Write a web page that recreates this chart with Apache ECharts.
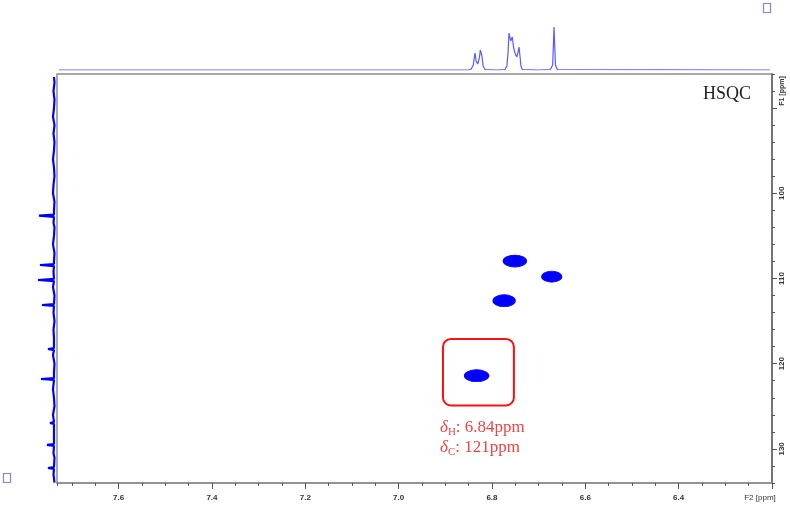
<!DOCTYPE html>
<html><head><meta charset="utf-8">
<script src="https://cdn.jsdelivr.net/npm/echarts@6/dist/echarts.min.js"></script>
<style>html,body{margin:0;padding:0;background:#fff}#c{width:790px;height:518px}</style>
</head><body><div id="c"></div>
<script>
// ---------- data ----------
const peakF2 = [6.751, 6.672, 6.774, 6.833];
const peakF1 = [107.95, 109.79, 112.61, 121.41];

const topPpm = [7.728, 6.870, 6.850, 6.8445, 6.840, 6.838, 6.8364, 6.834, 6.8306, 6.827, 6.825, 6.8235, 6.8215, 6.819, 6.815, 6.790,
                6.772, 6.768, 6.7655, 6.7635, 6.760, 6.7565, 6.7535, 6.7507, 6.747, 6.744, 6.7421, 6.740, 6.738, 6.735,
                6.700, 6.675, 6.670, 6.668, 6.6671, 6.666, 6.664, 6.660, 6.204];
const topInt = [0, 0, 0, 1, 5, 12, 17, 9, 6, 12, 20, 22, 14, 4, 0.5, 0,
                0.5, 4, 18, 37, 29, 33, 22, 17, 13, 18, 23, 14, 4, 0.5,
                0, 0.5, 5, 30, 43, 30, 5, 0.5, 0];

const leftPpm = [86.35, 87, 88, 89, 90, 91, 92, 93, 94, 95, 96, 97, 98, 99, 100, 101, 102, 102.5, 102.63, 102.76,
                 103.5, 104, 105, 106, 107, 108, 108.3, 108.42, 108.55, 109.2, 110.05, 110.18, 110.31, 111, 112,
                 113.0, 113.11, 113.22, 114, 115, 116, 117, 118.17, 118.28, 118.4, 119, 120, 121, 121.7, 121.8, 121.9,
                 123, 124, 125, 126, 126.85, 126.96, 127.07, 128, 129.43, 129.54, 129.65, 130.5, 131, 132.13, 132.24,
                 132.35, 133, 133.95];
const leftInt = [1, 0.5, 1.5, 0.5, 1, 2, 0.5, 1.5, 0.5, 1, 2, 1, 0.5, 1.5, 2, 0.5, 1, 1, 16, 1,
                 1.5, 0.5, 1, 2, 0.5, 1, 1, 15, 1, 1.5, 1, 17, 1, 2, 0.5,
                 1, 13, 1, 1.5, 0.5, 1.5, 1, 1, 7, 1, 2, 0.5, 1, 1, 14, 1,
                 2, 1, 0.5, 2, 1, 5, 1, 1, 1, 8, 1, 1.5, 0.5, 1, 7,
                 1, 1.5, 0.5];

const xTickLabels = ['7.6', '7.4', '7.2', '7.0', '6.8', '6.6', '6.4'];
const yTickLabels = ['100', '110', '120', '130'];
const xAxisName = 'F2 [ppm]';
const yAxisName = 'F1 [ppm]';
const titleText = 'HSQC';
const annoNucleus = ['H', 'C'];
const annoValue = ['6.84ppm', '121ppm'];
const boxF2 = [6.905, 6.753];
const boxF1 = [117.1, 124.9];

// ---------- layout ----------
const X_L = 57, X_R = 772, PX_X = 466.7;
const Y_T = 74, PX_Y = 8.52;
const F2_MIN = 6.2, F2_MAX = F2_MIN + (X_R - X_L) / PX_X;
const F2_MAJ_MAX = 7.6;
const F1_MIN = 86, F1_MAX = 134, F1_MAJ_MIN = 90, F1_MAJ_MAX = 130;
const gridH = (F1_MAX - F1_MIN) * PX_Y;
const peakSizes = [[23, 12], [20, 11], [22, 12], [24, 12]];
const ELLIPSE = 'path://M0,50 A100,50 0 1,1 200,50 A100,50 0 1,1 0,50 Z';
const tickColor = '#555';
const labelFont = {fontSize: 8, fontWeight: 'bold', color: '#333', fontFamily: 'Liberation Sans'};
const annoColor = '#f04444';

const chart = echarts.init(document.getElementById('c'), null, {renderer: 'canvas'});
chart.setOption({
  animation: false,
  backgroundColor: '#ffffff',
  grid: [
    {left: X_L, top: Y_T, width: X_R - X_L, height: gridH, show: true, borderColor: '#8c8c8c', borderWidth: 1.5},
    {left: X_R - (F2_MAJ_MAX - F2_MIN) * PX_X, top: Y_T, width: (F2_MAJ_MAX - F2_MIN) * PX_X, height: gridH},
    {left: X_L, top: 20, width: X_R - X_L, height: 50},
    {left: 15, top: Y_T, width: 40, height: gridH},
    {left: X_L, top: Y_T + (F1_MAJ_MIN - F1_MIN) * PX_Y, width: X_R - X_L, height: (F1_MAJ_MAX - F1_MAJ_MIN) * PX_Y}
  ],
  xAxis: [
    {gridIndex: 0, type: 'value', min: F2_MIN, max: F2_MAX, inverse: true, interval: 0.05,
     axisLine: {show: true, lineStyle: {color: '#8c8c8c', width: 1.5}},
     axisTick: {show: true, length: 3, lineStyle: {color: tickColor}},
     axisLabel: {show: false}, splitLine: {show: false}},
    {gridIndex: 1, type: 'value', min: F2_MIN, max: F2_MAJ_MAX, inverse: true, interval: 0.2,
     axisLine: {show: false},
     axisTick: {show: true, length: 6, lineStyle: {color: tickColor}},
     axisLabel: Object.assign({margin: 11, formatter: v => { const s = v.toFixed(1); return xTickLabels.includes(s) ? s : ''; }}, labelFont),
     splitLine: {show: false}},
    {gridIndex: 2, type: 'value', min: F2_MIN, max: F2_MAX, inverse: true, show: false},
    {gridIndex: 3, type: 'value', min: 0, max: 40, inverse: true, show: false},
    {gridIndex: 4, type: 'value', min: F2_MIN, max: F2_MAX, inverse: true, show: false}
  ],
  yAxis: [
    {gridIndex: 0, type: 'value', min: F1_MIN, max: F1_MAX, inverse: true, interval: 2, position: 'right',
     axisLine: {show: true, lineStyle: {color: '#666', width: 1.5}},
     axisTick: {show: true, length: 3, lineStyle: {color: tickColor}},
     axisLabel: {show: false}, splitLine: {show: false}},
    {gridIndex: 1, type: 'value', show: false},
    {gridIndex: 2, type: 'value', min: 0, max: 50, show: false},
    {gridIndex: 3, type: 'value', min: F1_MIN, max: F1_MAX, inverse: true, show: false},
    {gridIndex: 4, type: 'value', min: F1_MAJ_MIN, max: F1_MAJ_MAX, inverse: true, interval: 10, position: 'right',
     axisLine: {show: false},
     axisTick: {show: true, length: 5, lineStyle: {color: tickColor}},
     axisLabel: Object.assign({margin: 6, rotate: 90, formatter: v => { const s = String(Math.round(v)); return yTickLabels.includes(s) ? s : ''; }}, labelFont),
     splitLine: {show: false}}
  ],
  series: [
    {type: 'scatter', xAxisIndex: 0, yAxisIndex: 0, silent: true,
     data: peakF2.map((x, i) => [x, peakF1[i]]),
     symbol: ELLIPSE,
     symbolSize: (v, p) => peakSizes[p.dataIndex],
     itemStyle: {color: '#0000ff', borderColor: '#0000ff', borderWidth: 1, opacity: 1}},
    {type: 'line', xAxisIndex: 2, yAxisIndex: 2, silent: true, showSymbol: false,
     data: topPpm.map((x, i) => [x, topInt[i]]),
     lineStyle: {color: '#5a5aff', width: 1.2}},
    {type: 'line', xAxisIndex: 3, yAxisIndex: 3, silent: true, showSymbol: false,
     data: leftPpm.map((y, i) => [leftInt[i], y]),
     lineStyle: {color: '#0000ff', width: 2.2}}
  ]
});

const pA = chart.convertToPixel({gridIndex: 0}, [boxF2[0], boxF1[0]]);
const pB = chart.convertToPixel({gridIndex: 0}, [boxF2[1], boxF1[1]]);
const richStyle = {
  d: {fontStyle: 'italic', fontSize: 17, fontFamily: 'Liberation Serif', fill: annoColor, lineHeight: 20},
  s: {fontSize: 11, fontFamily: 'Liberation Serif', fill: annoColor, lineHeight: 14, verticalAlign: 'bottom'},
  t: {fontSize: 17, fontFamily: 'Liberation Serif', fill: annoColor, lineHeight: 20}
};
const annoText = annoNucleus.map((n, i) => '{d|δ}{s|' + n + '}{t|: ' + annoValue[i] + '}').join('\n');

chart.setOption({
  graphic: [
    {type: 'rect', silent: true,
     shape: {x: pA[0], y: pA[1], width: pB[0] - pA[0], height: pB[1] - pA[1], r: 8},
     style: {fill: 'none', stroke: '#ff1010', lineWidth: 2}},
    {type: 'text', silent: true, x: pA[0] - 3, y: pB[1] + 12,
     style: {text: annoText, rich: richStyle, fill: annoColor, align: 'left', verticalAlign: 'top'}},
    {type: 'text', silent: true, x: 751, y: 94,
     style: {text: titleText, font: '18px "Liberation Serif"', fill: '#222', align: 'right', verticalAlign: 'middle'}},
    {type: 'text', silent: true, x: 760, y: 498,
     style: {text: xAxisName, font: '8px "Liberation Sans"', fill: '#333', align: 'center', verticalAlign: 'middle'}},
    {type: 'text', silent: true, x: 782, y: 91, rotation: Math.PI / 2,
     style: {text: yAxisName, font: 'bold 7px "Liberation Sans"', fill: '#333', align: 'center', verticalAlign: 'middle'}},
    {type: 'rect', silent: true, shape: {x: 763.5, y: 3.5, width: 7, height: 9},
     style: {fill: 'none', stroke: '#8080ff', lineWidth: 1.2}},
    {type: 'rect', silent: true, shape: {x: 3.5, y: 473.5, width: 7, height: 9},
     style: {fill: 'none', stroke: '#8080ff', lineWidth: 1.2}}
  ]
});
</script>
</body></html>
